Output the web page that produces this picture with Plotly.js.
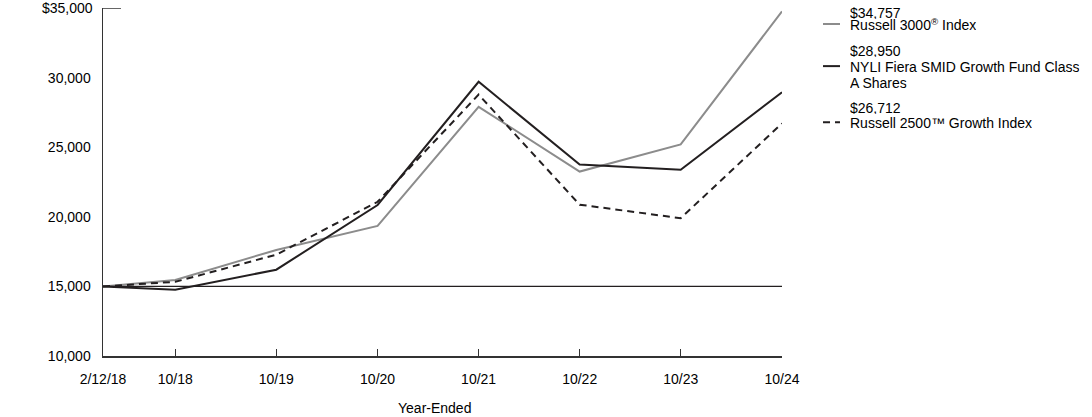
<!DOCTYPE html>
<html>
<head>
<meta charset="utf-8">
<script src="https://cdn.plot.ly/plotly-3.0.1.min.js"></script>
<style>html,body{margin:0;padding:0;background:#fff;}#chart{width:1092px;height:417px;}</style>
</head>
<body>
<div id="chart"></div>
<script>
// Data
const dates = ['2018-02-12','2018-10-31','2019-10-31','2020-10-31','2021-10-31','2022-10-31','2023-10-31','2024-10-31'];
const tickLabels = ['2/12/18','10/18','10/19','10/20','10/21','10/22','10/23','10/24'];
const russell3000 = [15000, 15460, 17620, 19350, 27900, 23250, 25200, 34757];
const fund = [15000, 14760, 16200, 20850, 29700, 23750, 23380, 28950];
const russell2500G = [15000, 15330, 17280, 21080, 28780, 20870, 19900, 26712];
const yTickVals = [10000, 15000, 20000, 25000, 30000];
const yTickText = ['10,000', '15,000', '20,000', '25,000', '30,000'];
const yTopVal = 35000;
const yTopText = '$35,000';

const GRAY = '#8c8c8c', BLACK = '#231f20', AXIS = '#333333';
const FONT = 'Liberation Sans, Arial, sans-serif';
const fmt = v => '$' + v.toLocaleString('en-US');

const traces = [
  {x: dates, y: russell3000, type: 'scatter', mode: 'lines', line: {color: GRAY, width: 2}, name: 'Russell 3000 Index'},
  {x: dates, y: russell2500G, type: 'scatter', mode: 'lines', line: {color: BLACK, width: 2, dash: '7px,5px'}, name: 'Russell 2500 Growth Index'},
  {x: dates, y: fund, type: 'scatter', mode: 'lines', line: {color: BLACK, width: 2}, name: 'NYLI Fiera SMID Growth Fund Class A Shares'}
];

// legend geometry (paper coords)
const lx0 = 1.0604, lx1 = 1.0854, tx = 1.0987;
const legendItems = [
  {val: russell3000[russell3000.length-1], lines: ['Russell 3000<sup>®</sup> Index'], ys: [0.9885, 0.954], color: GRAY, dash: 'solid'},
  {val: fund[fund.length-1], lines: ['NYLI Fiera SMID Growth Fund Class', 'A Shares'], ys: [0.879, 0.833, 0.787], color: BLACK, dash: 'solid'},
  {val: russell2500G[russell2500G.length-1], lines: ['Russell 2500™ Growth Index'], ys: [0.7155, 0.672], color: BLACK, dash: '7px,5px'}
];

const annotations = [];
const shapes = [
  {type: 'line', xref: 'paper', yref: 'y', x0: 0, x1: 1, y0: 15000, y1: 15000, line: {color: BLACK, width: 1.3}},
  {type: 'line', xref: 'paper', yref: 'y', x0: 0, x1: 0.0265, y0: yTopVal, y1: yTopVal, line: {color: AXIS, width: 1.5}}
];
legendItems.forEach(it => {
  const texts = [fmt(it.val)].concat(it.lines);
  texts.forEach((t, i) => {
    annotations.push({xref: 'paper', yref: 'paper', x: tx, y: it.ys[i], xanchor: 'left', yanchor: 'middle', height: 13, borderpad: 0, text: t, showarrow: false, font: {family: FONT, size: 14, color: '#000'}});
  });
  shapes.push({type: 'line', xref: 'paper', yref: 'paper', x0: lx0, x1: lx1, y0: it.ys[1], y1: it.ys[1], line: {color: it.color, width: 2, dash: it.dash}});
});
annotations.push({xref: 'paper', yref: 'paper', x: 0.4875, y: -0.149, xanchor: 'center', yanchor: 'middle', text: 'Year-Ended', showarrow: false, font: {family: FONT, size: 14, color: '#000'}});
annotations.push({xref: 'paper', yref: 'y', x: 0, y: yTopVal, xanchor: 'right', yanchor: 'middle', xshift: -9, borderpad: 0, text: yTopText, showarrow: false, font: {family: FONT, size: 14, color: '#000'}});

const layout = {
  width: 1092, height: 417,
  margin: {l: 103, r: 310, t: 8, b: 61},
  paper_bgcolor: '#fff', plot_bgcolor: '#fff',
  showlegend: false,
  font: {family: FONT, size: 14, color: '#000'},
  xaxis: {
    type: 'date', range: [dates[0], dates[dates.length-1]],
    tickvals: dates, ticktext: tickLabels,
    ticks: 'inside', ticklen: 7, tickwidth: 1.5, tickcolor: AXIS,
    showline: true, linecolor: AXIS, linewidth: 1.5,
    showgrid: false, zeroline: false,
    ticklabelstandoff: 10,
    tickfont: {family: FONT, size: 14, color: '#000'}
  },
  yaxis: {
    range: [10000, 35000],
    tickvals: yTickVals, ticktext: yTickText,
    ticks: '', showline: true, linecolor: AXIS, linewidth: 1.5,
    showgrid: false, zeroline: false,
    ticklabelstandoff: 8,
    tickfont: {family: FONT, size: 14, color: '#000'}
  },
  shapes: shapes,
  annotations: annotations
};

Plotly.newPlot('chart', traces, layout, {displayModeBar: false, staticPlot: true});
</script>
</body>
</html>
